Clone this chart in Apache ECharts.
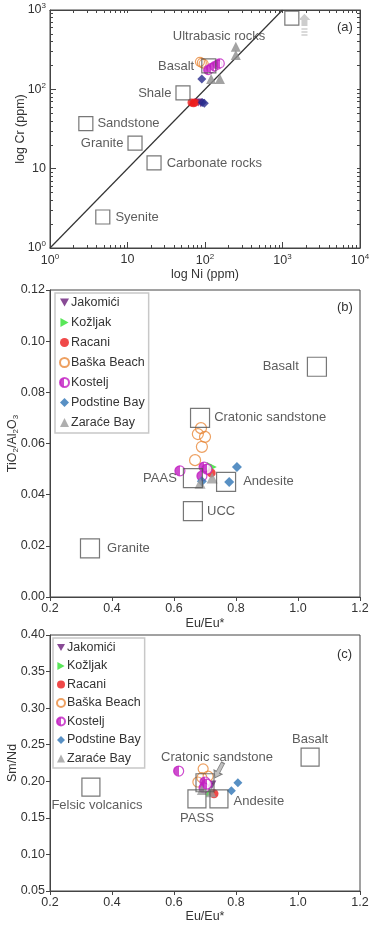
<!DOCTYPE html>
<html>
<head>
<meta charset="utf-8">
<script src="https://cdn.jsdelivr.net/npm/echarts@6/dist/echarts.min.js"></script>
<style>
  html, body { margin: 0; padding: 0; background: #fff; }
  #chart { width: 374px; height: 926px; }
</style>
</head>
<body>
<div id="chart"></div>
<script>
// ---- data ----
const siteNames = ["Jakomići", "Kožljak", "Racani", "Baška Beach", "Kostelj", "Podstine Bay", "Zaraće Bay"];

// (a) log Ni vs log Cr (ppm)
const lineA = [[1, 1], [1000, 1000]];
const refNamesA = ["Ultrabasic rocks", "Basalt", "Shale", "Sandstone", "Granite", "Carbonate rocks", "Syenite"];
const refA = [[1320, 790], [112, 197], [52, 90], [2.9, 37], [12.5, 21], [22, 11.8], [4.8, 2.46]];
const arrowA = [[1920, 650]];
const jakA = [[82, 68], [88, 67]];
const racA = [[67, 68], [71, 67], [74, 68]];
const baskaA = [[86, 222], [91, 215], [96, 210]];
const kosA = [[110, 175], [120, 185], [132, 195], [145, 205], [155, 212]];
const podA = [[91, 135], [92, 68], [98, 67]];
const zarA = [[250, 343], [250, 270], [120, 135], [156, 135]];

// (b) Eu/Eu* vs TiO2/Al2O3
const refNamesB = ["Basalt", "Cratonic sandstone", "PAAS", "Andesite", "UCC", "Granite"];
const refB = [[1.061, 0.090], [0.684, 0.070], [0.661, 0.0465], [0.768, 0.045], [0.661, 0.0336], [0.329, 0.019]];
const jakB = [[0.707, 0.0500]];
const kozB = [[0.722, 0.0508]];
const racB = [[0.720, 0.0485]];
const baskaB = [[0.687, 0.0660], [0.677, 0.0637], [0.700, 0.0626], [0.690, 0.0587], [0.668, 0.0535]];
const kosB = [[0.619, 0.0493], [0.697, 0.0508], [0.690, 0.0473], [0.706, 0.0500]];
const podB = [[0.803, 0.0508], [0.778, 0.0450], [0.690, 0.0452]];
const zarB = [[0.684, 0.0445], [0.723, 0.0465]];

// (c) Eu/Eu* vs Sm/Nd
const refNamesC = ["Basalt", "Cratonic sandstone", "Felsic volcanics", "PASS", "Andesite"];
const refC = [[1.039, 0.233], [0.700, 0.198], [0.332, 0.192], [0.674, 0.176], [0.745, 0.176]];
const arrowC = [[0.745, 0.215]];
const jakC = [[0.722, 0.195], [0.712, 0.192]];
const kozC = [[0.719, 0.185]];
const racC = [[0.729, 0.183]];
const baskaC = [[0.694, 0.217], [0.677, 0.199], [0.710, 0.207], [0.690, 0.205]];
const kosC = [[0.615, 0.214], [0.700, 0.199], [0.697, 0.191], [0.705, 0.196]];
const podC = [[0.806, 0.198], [0.785, 0.187]];
const zarC = [[0.720, 0.185], [0.690, 0.188]];

const xTicksA = [1, 10, 100, 1000, 10000];
const yTicksA = [1, 10, 100, 1000];

// ---- styling ----
const FONT = "Liberation Sans, Arial, sans-serif";
const TXT = "#333";
const chart = echarts.init(document.getElementById("chart"));

const halfFill = (c) => new echarts.graphic.LinearGradient(0, 0, 1, 0, [
  { offset: 0, color: c }, { offset: 0.5, color: c },
  { offset: 0.5, color: "#fff" }, { offset: 1, color: "#fff" },
]);

const marks = {
  "Jakomići": { symbol: "path://M0,0 L10,0 L5,9 Z", itemStyle: { color: "#6a1d7a" } },
  "Kožljak": { symbol: "path://M0,0 L9,5 L0,10 Z", itemStyle: { color: "#2fe12f" } },
  "Racani": { symbol: "circle", itemStyle: { color: "#ec1c1c" } },
  "Baška Beach": { symbol: "circle", itemStyle: { color: "rgba(255,255,255,0)", borderColor: "#e8883a", borderWidth: 1.2 } },
  "Kostelj": { symbol: "circle", itemStyle: { color: halfFill("#c21fc2"), borderColor: "#c21fc2", borderWidth: 1.2 } },
  "Podstine Bay": { symbol: "diamond", itemStyle: { color: "#2e74b5" } },
  "Zaraće Bay": { symbol: "triangle", itemStyle: { color: "#9b9b9b" } },
};

function site(name, data, idx, size, extra) {
  const m = marks[name];
  return {
    name, type: "scatter", xAxisIndex: idx, yAxisIndex: idx, data,
    symbol: m.symbol, symbolSize: size,
    itemStyle: Object.assign({}, m.itemStyle, extra || {}),
    z: 3,
  };
}

function refs(names, coords, idx, size, labels) {
  return {
    type: "scatter", xAxisIndex: idx, yAxisIndex: idx, symbol: "rect", symbolSize: size, z: 4,
    itemStyle: { color: "rgba(255,255,255,0)", borderColor: "#555", borderWidth: 1.2 },
    label: { show: true, formatter: "{b}", color: TXT, fontFamily: FONT, fontSize: 13 },
    data: coords.map((c, i) => ({ name: names[i], value: c, label: labels[i] })),
  };
}

function minorLog(lo, hi) {
  const out = [];
  for (let d = lo; d < hi; d *= 10) for (let k = 2; k <= 9; k++) out.push(d * k);
  return out;
}
const supLabel = (v) => (v === 10 ? "10" : "10{s|" + Math.round(Math.log10(v)) + "}");
const supRich = { s: { fontSize: 8, padding: [0, 0, 8, 0], color: TXT, fontFamily: FONT } };
const tickLbl = { color: TXT, fontFamily: FONT, fontSize: 12.5 };
const nameStyle = { color: TXT, fontFamily: FONT, fontSize: 12.5 };
const frameLine = { show: true, lineStyle: { color: "#444", width: 1 } };

function logAxis(min, max, extra) {
  return Object.assign({
    type: "log", logBase: 10, min, max, gridIndex: 0, nameMoveOverlap: false,
    axisLine: frameLine, splitLine: { show: false },
  }, extra);
}

function linAxis(idx, min, max, interval, digits, extra) {
  return Object.assign({
    type: "value", gridIndex: idx, min, max, interval, nameMoveOverlap: false,
    axisLine: frameLine, splitLine: { show: false },
    axisTick: { show: true, inside: false, length: 4, lineStyle: { color: "#444" } },
    axisLabel: Object.assign({ formatter: (v) => v.toFixed(digits), margin: 5 }, tickLbl),
  }, extra);
}

const gridBase = { show: true, borderColor: "#444", borderWidth: 1, backgroundColor: "#fff", containLabel: false, outerBoundsMode: "none" };

chart.setOption({
  animation: false,
  backgroundColor: "#fff",
  textStyle: { fontFamily: FONT },
  grid: [
    Object.assign({ left: 50, top: 10, width: 310, height: 238 }, gridBase),
    Object.assign({ left: 50, top: 290, width: 310, height: 307 }, gridBase),
    Object.assign({ left: 50, top: 635, width: 310, height: 256 }, gridBase),
  ],
  title: [
    { text: "(a)", left: 332, top: 16, textStyle: { fontSize: 13, fontWeight: "normal", color: TXT, fontFamily: FONT } },
    { text: "(b)", left: 332, top: 296, textStyle: { fontSize: 13, fontWeight: "normal", color: TXT, fontFamily: FONT } },
    { text: "(c)", left: 332, top: 643, textStyle: { fontSize: 13, fontWeight: "normal", color: TXT, fontFamily: FONT } },
  ],
  legend: [
    {
      data: siteNames, orient: "vertical", left: 55, top: 293, selectedMode: false,
      itemWidth: 9, itemHeight: 9, itemGap: 7, padding: [3, 4, 4, 4],
      borderColor: "#c8c8c8", borderWidth: 1.5,
      textStyle: { color: TXT, fontFamily: FONT, fontSize: 12.5, padding: [0, 0, 0, -3] },
    },
    {
      data: siteNames, orient: "vertical", left: 53, top: 638, selectedMode: false,
      itemWidth: 8, itemHeight: 8, itemGap: 5.5, padding: [3, 4, 3, 3],
      borderColor: "#c8c8c8", borderWidth: 1.5,
      textStyle: { color: TXT, fontFamily: FONT, fontSize: 12.5, padding: [0, 0, 0, -3] },
    },
  ],
  xAxis: [
    logAxis(1, 10000, {
      position: "bottom", name: "log Ni (ppm)", nameLocation: "middle", nameGap: 20, nameTextStyle: nameStyle,
      axisTick: { show: true, inside: true, length: 6, customValues: xTicksA, lineStyle: { color: "#444" } },
      axisLabel: Object.assign({ customValues: xTicksA, formatter: supLabel, rich: supRich, margin: 5 }, tickLbl),
    }),
    logAxis(1, 10000, {
      position: "bottom", axisLine: { show: false }, axisLabel: { show: false },
      axisTick: { show: true, inside: true, length: 3, customValues: minorLog(1, 10000), lineStyle: { color: "#444" } },
    }),
    logAxis(1, 10000, {
      position: "top", axisLabel: { show: false },
      axisTick: { show: true, inside: true, length: 3, customValues: xTicksA.concat(minorLog(1, 10000)), lineStyle: { color: "#444" } },
    }),
    linAxis(1, 0.2, 1.2, 0.2, 1, { name: "Eu/Eu*", nameLocation: "middle", nameGap: 20, nameTextStyle: nameStyle }),
    linAxis(2, 0.2, 1.2, 0.2, 1, { name: "Eu/Eu*", nameLocation: "middle", nameGap: 19, nameTextStyle: nameStyle }),
  ],
  yAxis: [
    logAxis(1, 1000, {
      position: "left", name: "log Cr (ppm)", nameLocation: "middle", nameGap: 23, nameTextStyle: nameStyle,
      axisTick: { show: true, inside: true, length: 6, customValues: yTicksA, lineStyle: { color: "#444" } },
      axisLabel: Object.assign({ customValues: yTicksA, formatter: supLabel, rich: supRich, margin: 4 }, tickLbl),
    }),
    logAxis(1, 1000, {
      position: "left", axisLine: { show: false }, axisLabel: { show: false },
      axisTick: { show: true, inside: true, length: 3, customValues: minorLog(1, 1000), lineStyle: { color: "#444" } },
    }),
    logAxis(1, 1000, {
      position: "right", axisLabel: { show: false },
      axisTick: { show: true, inside: true, length: 3, customValues: yTicksA.concat(minorLog(1, 1000)), lineStyle: { color: "#444" } },
    }),
    linAxis(1, 0, 0.12, 0.02, 2, {
      name: "TiO{sub|2}/Al{sub|2}O{sub|3}", nameLocation: "middle", nameGap: 30,
      nameTextStyle: Object.assign({ rich: { sub: { fontSize: 8, padding: [6, 0, 0, 0], color: TXT, fontFamily: FONT } } }, nameStyle),
    }),
    linAxis(2, 0.05, 0.40, 0.05, 2, { name: "Sm/Nd", nameLocation: "middle", nameGap: 31, nameTextStyle: nameStyle }),
  ],
  series: [
    // (b)
    site("Jakomići", jakB, 3, 9),
    site("Kožljak", kozB, 3, 10),
    site("Racani", racB, 3, 9),
    site("Baška Beach", baskaB, 3, 11),
    site("Kostelj", kosB, 3, 10),
    site("Podstine Bay", podB, 3, 10),
    site("Zaraće Bay", zarB, 3, 11),
    refs(refNamesB, refB, 3, 19, [
      { position: "left", distance: 8 }, { position: "right", distance: 4 },
      { position: "left", distance: 6 }, { position: "right", distance: 7 },
      { position: "right", distance: 4 }, { position: "right", distance: 7 },
    ]),
    // (c)
    site("Jakomići", jakC, 4, 9),
    site("Kožljak", kozC, 4, 9),
    site("Racani", racC, 4, 9),
    site("Baška Beach", baskaC, 4, 10),
    site("Kostelj", kosC, 4, 10),
    site("Podstine Bay", podC, 4, 9),
    site("Zaraće Bay", zarC, 4, 10),
    refs(refNamesC, refC, 4, 18, [
      { position: "top", distance: 2 }, { position: "top", distance: 9, offset: [12, 0] },
      { position: "bottom", distance: 2, offset: [6, 0] }, { position: "bottom", distance: 3 },
      { position: "right", distance: 5, offset: [0, 3] },
    ]),
    {
      type: "scatter", xAxisIndex: 4, yAxisIndex: 4, data: arrowC, z: 5,
      symbol: "path://M5,0 L10,6 L7,6 L7,16 L3,16 L3,6 L0,6 Z", symbolSize: [9, 17], symbolRotate: 152,
      itemStyle: { color: "#b0b0b0", borderColor: "#666", borderWidth: 1 },
    },
    // (a)
    {
      type: "line", xAxisIndex: 0, yAxisIndex: 0, data: lineA, symbol: "none", z: 2,
      lineStyle: { color: "#333", width: 1.2 },
    },
    site("Jakomići", jakA, 0, 8),
    site("Racani", racA, 0, 8),
    site("Baška Beach", baskaA, 0, 9),
    site("Kostelj", kosA, 0, 9),
    site("Podstine Bay", podA, 0, 9, { color: "#27298c" }),
    site("Zaraće Bay", zarA, 0, 10, { color: "#8c8c8c" }),
    refs(refNamesA, refA, 0, 14, [
      { position: "left", distance: 19, offset: [0, 18] }, { position: "left", distance: 7 },
      { position: "left", distance: 4 }, { position: "right", distance: 4 },
      { position: "left", distance: 4 }, { position: "right", distance: 5 },
      { position: "right", distance: 5 },
    ]),
    {
      type: "scatter", xAxisIndex: 0, yAxisIndex: 0, data: arrowA, z: 5,
      symbol: "path://M6,0 L12,6 L9,6 L9,12 L3,12 L3,6 L0,6 Z M3,14 L9,14 L9,15.5 L3,15.5 Z M3,17 L9,17 L9,18.5 L3,18.5 Z M3,20 L9,20 L9,21.5 L3,21.5 Z",
      symbolSize: [12, 22], itemStyle: { color: "#c0c0c0" },
    },
  ],
});
</script>
</body>
</html>
